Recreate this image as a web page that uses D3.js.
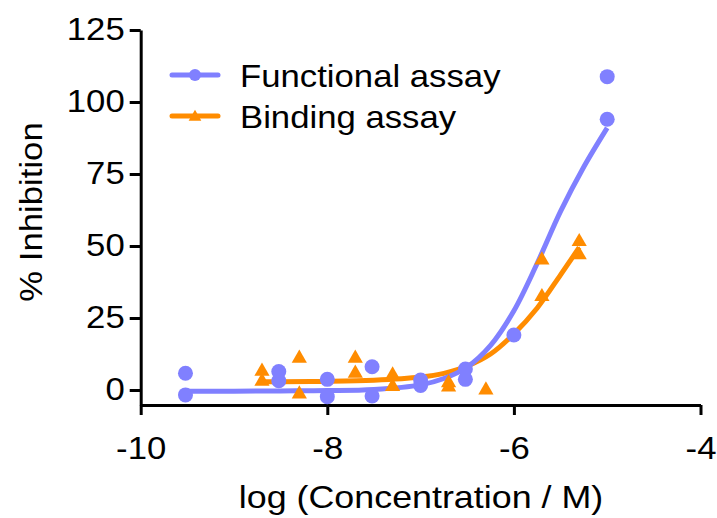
<!DOCTYPE html>
<html>
<head>
<meta charset="utf-8">
<script src="https://cdn.jsdelivr.net/npm/d3@7"></script>
<style>
  body { margin: 0; background: #fff; }
  text { font-family: "Liberation Sans", Arial, sans-serif; fill: #000; }
</style>
</head>
<body>
<div id="chart"></div>
<script>
// dados
const funcX = [-9.52, -9.52, -8.52, -8.52, -8, -8, -7.52, -7.52, -7, -7, -6.52, -6.52, -6, -5, -5];
const funcY = [5.8, -1.7, 6.4, 3.2, 3.7, -2.3, 8.1, -2.1, 3.5, 1.6, 7.3, 3.7, 19.1, 108.8, 94];

const bindX = [-8.7, -8.7, -8.3, -8.3, -7.7, -7.7, -7.3, -7.3, -6.7, -6.7, -6.3, -5.7, -5.7, -5.3, -5.3];
const bindY = [6.5, 3.0, 11, -1.4, 11, 5.8, 5.2, 1.2, 2.5, 1.0, 0, 45.1, 32.4, 51.5, 46.9];

// curvas ajustadas
const funcFitX = [-9.52, -9, -8.5, -8, -7.5, -7, -6.75, -6.5, -6.25, -6, -5.75, -5.5, -5.25, -5];
const funcFitY = [-0.4, -0.4, -0.3, -0.2, 0.2, 1.8, 4, 8, 15.5, 27.5, 44, 62, 77.5, 91];

const bindFitX = [-8.7, -8.5, -8, -7.5, -7, -6.75, -6.5, -6.25, -6, -5.75, -5.5, -5.3];
const bindFitY = [2.9, 2.9, 3.0, 3.4, 4.5, 5.8, 8.3, 12.5, 19.5, 28.5, 40, 49.5];

const xTicks = [-10, -8, -6, -4];
const yTicks = [0, 25, 50, 75, 100, 125];

const seriesNames = ["Functional assay", "Binding assay"];
const blue = "#8080ff", orange = "#ff8c00";
const stretch = 1.12;

const W = 717, H = 518;

const svg = d3.select("#chart")
  .append("svg")
    .attr("width", W)
    .attr("height", H);

const x = d3.scaleLinear().domain([-10, -4]).range([140.7, 700.5]);
const y = d3.scaleLinear().domain([-5.2, 125]).range([405, 30]);

// Eixo y
const gy = svg.append("g")
  .attr("transform", `translate(${x(-10)},0)`)
  .call(d3.axisLeft(y).tickValues(yTicks).tickSize(11).tickSizeOuter(0).tickPadding(5)
    .tickFormat(d => String(d)));
gy.selectAll("text")
  .attr("x", -16 / stretch)
  .attr("transform", `scale(${stretch},1)`)
  .style("font-size", "31px");

// Eixo x
const gx = svg.append("g")
  .attr("transform", `translate(0,${y(-5.2)})`)
  .call(d3.axisBottom(x).tickValues(xTicks).tickSize(10).tickSizeOuter(0).tickPadding(22)
    .tickFormat(d => String(d)));
gx.selectAll("text")
  .attr("transform", `scale(${stretch},1)`)
  .style("font-size", "31px");

svg.selectAll(".domain, .tick line")
  .attr("stroke", "#000")
  .attr("stroke-width", 3);

// rótulos dos eixos
svg.append("text")
  .attr("text-anchor", "middle")
  .attr("transform", `translate(421,508) scale(${stretch},1)`)
  .style("font-size", "32px")
  .text("log (Concentration / M)");

svg.append("text")
  .attr("text-anchor", "middle")
  .attr("transform", `translate(42,212) rotate(-90) scale(${stretch},1)`)
  .style("font-size", "31px")
  .text("% Inhibition");

// curvas
const line = d3.line()
  .x(d => x(d[0]))
  .y(d => y(d[1]))
  .curve(d3.curveCatmullRom.alpha(0.5));

svg.append("path")
  .datum(d3.zip(bindFitX, bindFitY))
  .attr("d", line)
  .attr("fill", "none")
  .attr("stroke", orange)
  .attr("stroke-width", 5);

svg.append("path")
  .datum(d3.zip(funcFitX, funcFitY))
  .attr("d", line)
  .attr("fill", "none")
  .attr("stroke", blue)
  .attr("stroke-width", 5);

// pontos
svg.selectAll(".tri")
  .data(d3.zip(bindX, bindY))
  .join("path")
    .attr("class", "tri")
    .attr("transform", d => `translate(${x(d[0])},${y(d[1])})`)
    .attr("d", d3.symbol(d3.symbolTriangle, 100))
    .attr("fill", orange);

svg.selectAll(".dot")
  .data(d3.zip(funcX, funcY))
  .join("circle")
    .attr("class", "dot")
    .attr("cx", d => x(d[0]))
    .attr("cy", d => y(d[1]))
    .attr("r", 7.5)
    .attr("fill", blue);

// legenda
const leg = svg.append("g");
seriesNames.forEach((name, i) => {
  const ly = 75 + i * 41;
  const col = i === 0 ? blue : orange;
  leg.append("line")
    .attr("x1", 172).attr("x2", 218)
    .attr("y1", ly).attr("y2", ly)
    .attr("stroke", col)
    .attr("stroke-width", 5)
    .attr("stroke-linecap", "round");
  if (i === 0) {
    leg.append("circle").attr("cx", 195).attr("cy", ly).attr("r", 6).attr("fill", col);
  } else {
    leg.append("path")
      .attr("transform", `translate(195,${ly + 1})`)
      .attr("d", d3.symbol(d3.symbolTriangle, 70))
      .attr("fill", col);
  }
  leg.append("text")
    .attr("transform", `translate(240,${ly + 12}) scale(${stretch},1)`)
    .style("font-size", "31px")
    .text(name);
});
</script>
</body>
</html>
